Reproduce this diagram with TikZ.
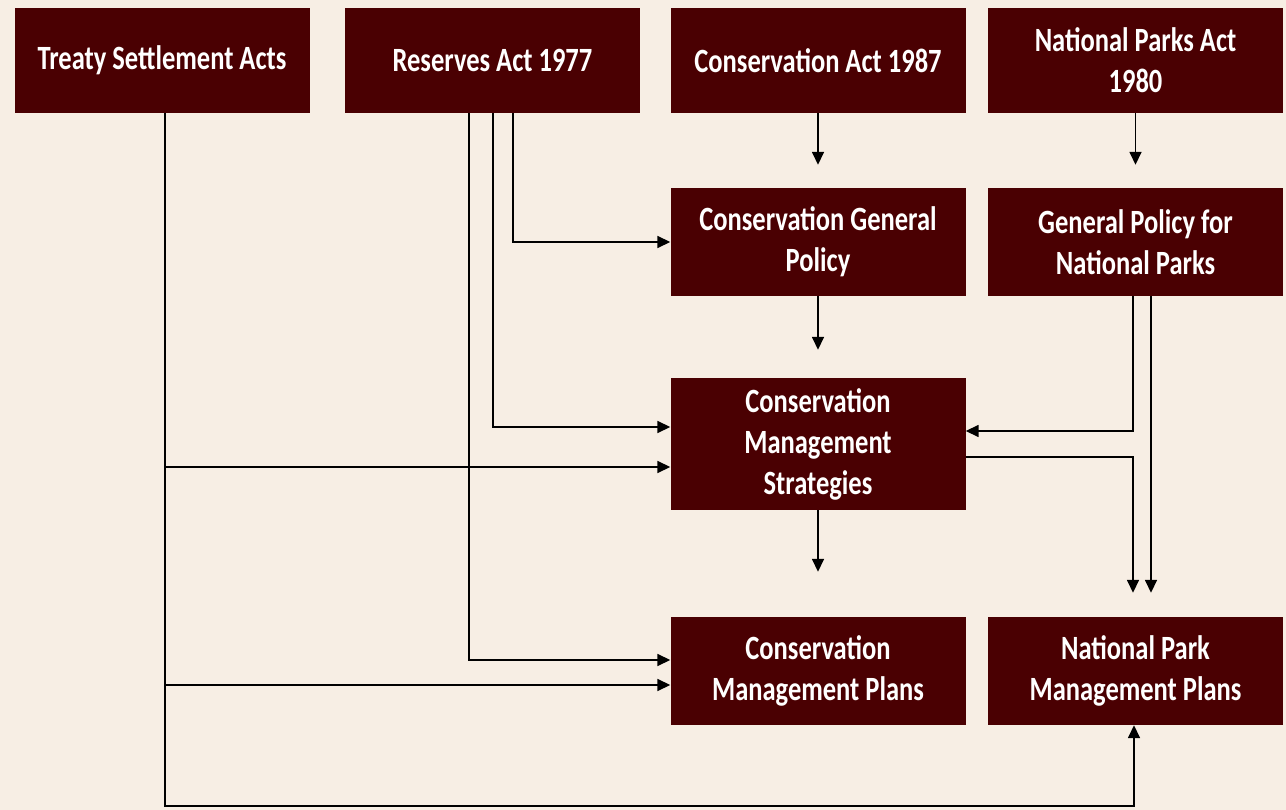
\documentclass[tikz,border=0pt]{standalone}
\usepackage{fontspec}
\usetikzlibrary{arrows.meta}
\newfontfamily\boxfont{Carlito}[FakeStretch=0.78]
\definecolor{maroon}{RGB}{74,0,2}
\definecolor{paper}{RGB}{247,238,228}

\begin{document}
\begin{tikzpicture}[x=1pt, y=-1pt,
    actbox/.style={fill=maroon, text=white, align=center, minimum width=295pt, inner sep=0pt,
      font=\boxfont\bfseries\fontsize{34}{41}\selectfont},
    arr/.style={-{Triangle[length=13pt,width=12pt]}, line width=1.6pt}]
    \fill[paper] (0,0) rectangle (1286,810);

    % acts
    \node[actbox, minimum height=105pt] (treaty) at (162, 60.5) {Treaty Settlement Acts};
    \node[actbox, minimum height=105pt] (reserves) at (492.5, 60.5) {Reserves Act 1977};
    \node[actbox, minimum height=105pt] (consact) at (818, 60.5) {Conservation Act 1987};
    \node[actbox, minimum height=105pt] (npact) at (1135.5, 60.5) {National Parks Act\\1980};

    % policies
    \node[actbox, minimum height=108pt] (cgp) at (818, 242) {Conservation General\\Policy};
    \node[actbox, minimum height=108pt] (gpnp) at (1135.5, 242) {General Policy for\\National Parks};

    % strategies and plans
    \node[actbox, minimum height=132pt] (cms) at (818, 444) {Conservation\\Management\\Strategies};
    \node[actbox, minimum height=108pt] (cmp) at (818, 671) {Conservation\\Management Plans};
    \node[actbox, minimum height=108pt] (npmp) at (1135.5, 671) {National Park\\Management Plans};

    \coordinate (base) at (1134, 806);

    \draw[arr, shorten >=23pt] (consact) -- (cgp);
    \draw[arr, shorten >=23pt] (npact) -- (gpnp);
    \draw[arr, shorten >=28pt] (cgp) -- (cms);
    \draw[arr, shorten >=45pt] (cms) -- (cmp);

    \draw[arr] ([xshift=20.5pt]reserves.south) |- (cgp.west);
    \draw[arr] ([xshift=0.5pt]reserves.south) |- ([yshift=17pt]cms.west);
    \draw[arr] ([xshift=-23.5pt]reserves.south) |- ([yshift=11pt]cmp.west);

    \draw[arr] ([xshift=3pt]treaty.south) |- ([yshift=-23pt]cms.west);
    \draw[arr] ([xshift=3pt]treaty.south) |- ([yshift=-14pt]cmp.west);
    \draw[arr] ([xshift=3pt]treaty.south) |- (base) -- ([xshift=-1.5pt]npmp.south);

    \draw[arr] ([xshift=-2.5pt]gpnp.south) |- ([yshift=13pt]cms.east);
    \draw[arr, shorten >=24pt] ([xshift=15.5pt]gpnp.south) -- ([xshift=15.5pt]npmp.north);
    \draw[arr, shorten >=24pt] ([yshift=-13pt]cms.east) -| ([xshift=-2.5pt]npmp.north);
  \end{tikzpicture}
\end{document}
